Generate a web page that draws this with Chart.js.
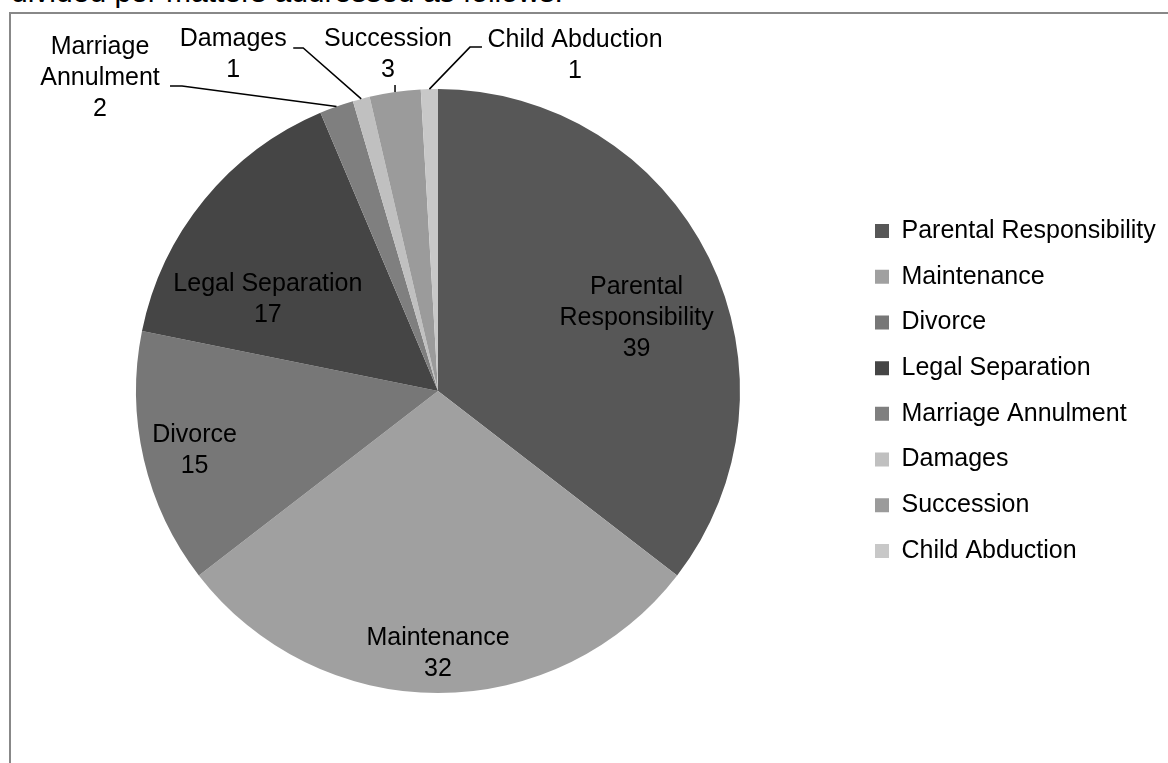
<!DOCTYPE html>
<html>
<head>
<meta charset="utf-8">
<script src="https://cdn.jsdelivr.net/npm/chart.js@4.4.1/dist/chart.umd.min.js"></script>
<style>
  html, body { margin: 0; padding: 0; background: #fff; overflow: hidden; }
  #wrap { position: relative; width: 1168px; height: 763px; overflow: hidden; }
  #intro { position: absolute; left: 11px; top: -23px; font: 30px "Liberation Sans", Arial, sans-serif; line-height: 30px; color: #000; white-space: nowrap; }
  #frame { position: absolute; left: 9px; top: 12px; width: 1200px; height: 800px; border: 2px solid #888; }
  #pie { position: absolute; left: 0; top: 0; }
</style>
</head>
<body>
<div id="wrap">
  <div id="intro">divided per matters addressed as follows:</div>
  <div id="frame"></div>
  <canvas id="pie" width="1168" height="763"></canvas>
</div>
<script>
// --- Data ---
const matters = ['Parental Responsibility', 'Maintenance', 'Divorce', 'Legal Separation',
  'Marriage Annulment', 'Damages', 'Succession', 'Child Abduction'];
const caseCounts = [39, 32, 15, 17, 2, 1, 3, 1];
const sliceShades = ['#575757', '#a0a0a0', '#777777', '#454545', '#7f7f7f', '#c0c0c0', '#9b9b9b', '#c8c8c8'];
// text shown on the slices (line breaks where the label wraps)
const captions = ['Parental\nResponsibility', 'Maintenance', 'Divorce', 'Legal Separation',
  'Marriage\nAnnulment', 'Damages', 'Succession', 'Child Abduction'];

// --- Label placement ---
// inside: 'at' = fraction along the slice, 'r' = fraction of the radius
// outside: offsets from the slice's outer mid point (text centre, leader elbow, leader tail)
const labelSpots = [
  { at: 0.548, r: 0.70 },
  { at: 0.5, r: 0.87 },
  { at: 0.485, r: 0.83 },
  { at: 0.303, r: 0.64 },
  { text: [-236.5, -28.5], elbow: [-154.5, -20.5], tail: [-166.5, -20.5] },
  { text: [-128, -44], elbow: [-58, -51], tail: [-68, -51] },
  { text: [-7, -37], elbow: [0, -7], tail: [0, -7] },
  { text: [145.6, -34], elbow: [40.6, -42], tail: [52.6, -42] }
];

const FONT = '"Liberation Sans", Arial, sans-serif';
const LABEL_SIZE = 25;
const LINE_H = 31;
const LEGEND_PAD = 20.7;

// --- Slice labels with leader lines ---
const sliceLabels = {
  id: 'sliceLabels',
  afterDatasetsDraw(chart) {
    const ctx = chart.ctx;
    const meta = chart.getDatasetMeta(0);
    ctx.save();
    ctx.font = LABEL_SIZE + 'px ' + FONT;
    ctx.fillStyle = '#000';
    ctx.textAlign = 'center';
    ctx.textBaseline = 'middle';
    ctx.strokeStyle = '#000';
    ctx.lineWidth = 1.5;
    meta.data.forEach((arc, i) => {
      const p = arc.getProps(['x', 'y', 'startAngle', 'endAngle', 'outerRadius'], true);
      const spot = labelSpots[i];
      const lines = captions[i].split('\n').concat(String(caseCounts[i]));
      let cx, cy;
      if (spot.text) {
        const mid = (p.startAngle + p.endAngle) / 2;
        const ex = p.x + Math.cos(mid) * p.outerRadius;
        const ey = p.y + Math.sin(mid) * p.outerRadius;
        ctx.beginPath();
        ctx.moveTo(ex, ey);
        ctx.lineTo(ex + spot.elbow[0], ey + spot.elbow[1]);
        ctx.lineTo(ex + spot.tail[0], ey + spot.tail[1]);
        ctx.stroke();
        cx = ex + spot.text[0];
        cy = ey + spot.text[1];
      } else {
        const a = p.startAngle + (p.endAngle - p.startAngle) * spot.at;
        cx = p.x + Math.cos(a) * p.outerRadius * spot.r;
        cy = p.y + Math.sin(a) * p.outerRadius * spot.r;
      }
      const top = cy - (lines.length - 1) * LINE_H / 2;
      lines.forEach((t, k) => ctx.fillText(t, cx, top + k * LINE_H));
    });
    ctx.restore();
  }
};

const chart = new Chart(document.getElementById('pie').getContext('2d'), {
  type: 'pie',
  data: {
    labels: matters,
    datasets: [{
      data: caseCounts,
      backgroundColor: sliceShades,
      borderWidth: 0
    }]
  },
  options: {
    responsive: false,
    animation: false,
    layout: { padding: { left: 18, right: 10, top: 89, bottom: 70 } },
    plugins: {
      tooltip: { enabled: false },
      legend: {
        position: 'right',
        labels: {
          boxWidth: 14,
          boxHeight: 14,
          padding: LEGEND_PAD,
          color: '#000',
          font: { family: FONT, size: LABEL_SIZE }
        }
      }
    }
  },
  plugins: [sliceLabels]
});

// pin the legend column and keep the pie centred at x=438
const legendLeft = 875 - LEGEND_PAD;
chart.options.layout.padding.right = 1168 - legendLeft - chart.legend.width;
chart.options.layout.padding.left = 2 * 438 - legendLeft;
chart.update();
</script>
</body>
</html>
